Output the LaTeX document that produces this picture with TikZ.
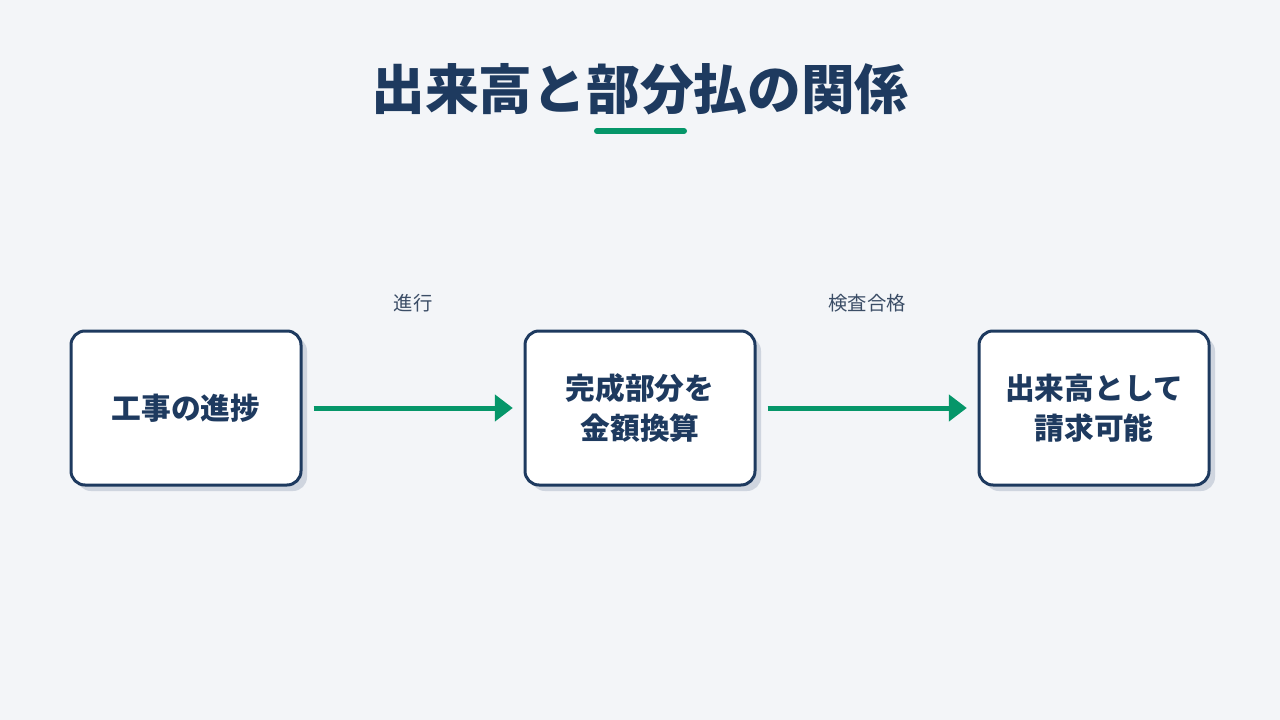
\documentclass[tikz,border=0pt]{standalone}
\usepackage{fontspec}
\newfontfamily\jpfont{Noto Sans CJK JP}
\usepackage{tikz}
\usetikzlibrary{arrows.meta,shadows}
\definecolor{bgcol}{HTML}{F3F5F8}
\definecolor{navy}{HTML}{1E3A5F}
\definecolor{labcol}{HTML}{3B4D66}
\definecolor{flowgreen}{HTML}{059669}
\definecolor{shadecol}{HTML}{CFD5DF}
\tikzset{
  stepbox/.style={draw=navy, line width=2.25pt, fill=white, rounded corners=10.5pt,
    minimum width=172.5pt, minimum height=115.5pt, align=center,
    font=\jpfont\bfseries\fontsize{22.3}{30}\selectfont, text=navy,
    drop shadow={shadow xshift=4.5pt, shadow yshift=-4.5pt, fill=shadecol, opacity=1}},
  flow/.style={draw=flowgreen, line width=3.75pt,
    -{Triangle[length=13.5pt, width=19.5pt]}, shorten <=8.25pt, shorten >=8pt},
  steplabel/.style={font=\jpfont\fontsize{14.5}{17}\selectfont, text=labcol}
}
\begin{document}
\begin{tikzpicture}[x=0.75pt, y=-0.75pt]
%%%%% Background %%%%%
\fill[bgcol] (0,0) rectangle (1280,720);
\useasboundingbox (0,0) rectangle (1280,720);
%%%%% Title %%%%%
\node[font=\jpfont\bfseries\fontsize{40.3}{48}\selectfont, text=navy] (title) at (640,89) {出来高と部分払の関係};
\coordinate (ulA) at (597,131);
\coordinate (ulB) at (684,131);
\draw[flowgreen, line width=4.5pt, line cap=round] (ulA) -- (ulB);
%%%%% Boxes %%%%%
\node[stepbox] (progress) at (186,408) {工事の進捗};
\node[stepbox] (convert) at (640,408) {完成部分を\\金額換算};
\node[stepbox] (billing) at (1094,408) {出来高として\\請求可能};
%%%%% Arrows %%%%%
\draw[flow] (progress) -- (convert) node[midway, yshift=78.75pt, steplabel] (lab1) {進行};
\draw[flow] (convert) -- (billing) node[midway, yshift=78.75pt, steplabel] (lab2) {検査合格};
\end{tikzpicture}
\end{document}
